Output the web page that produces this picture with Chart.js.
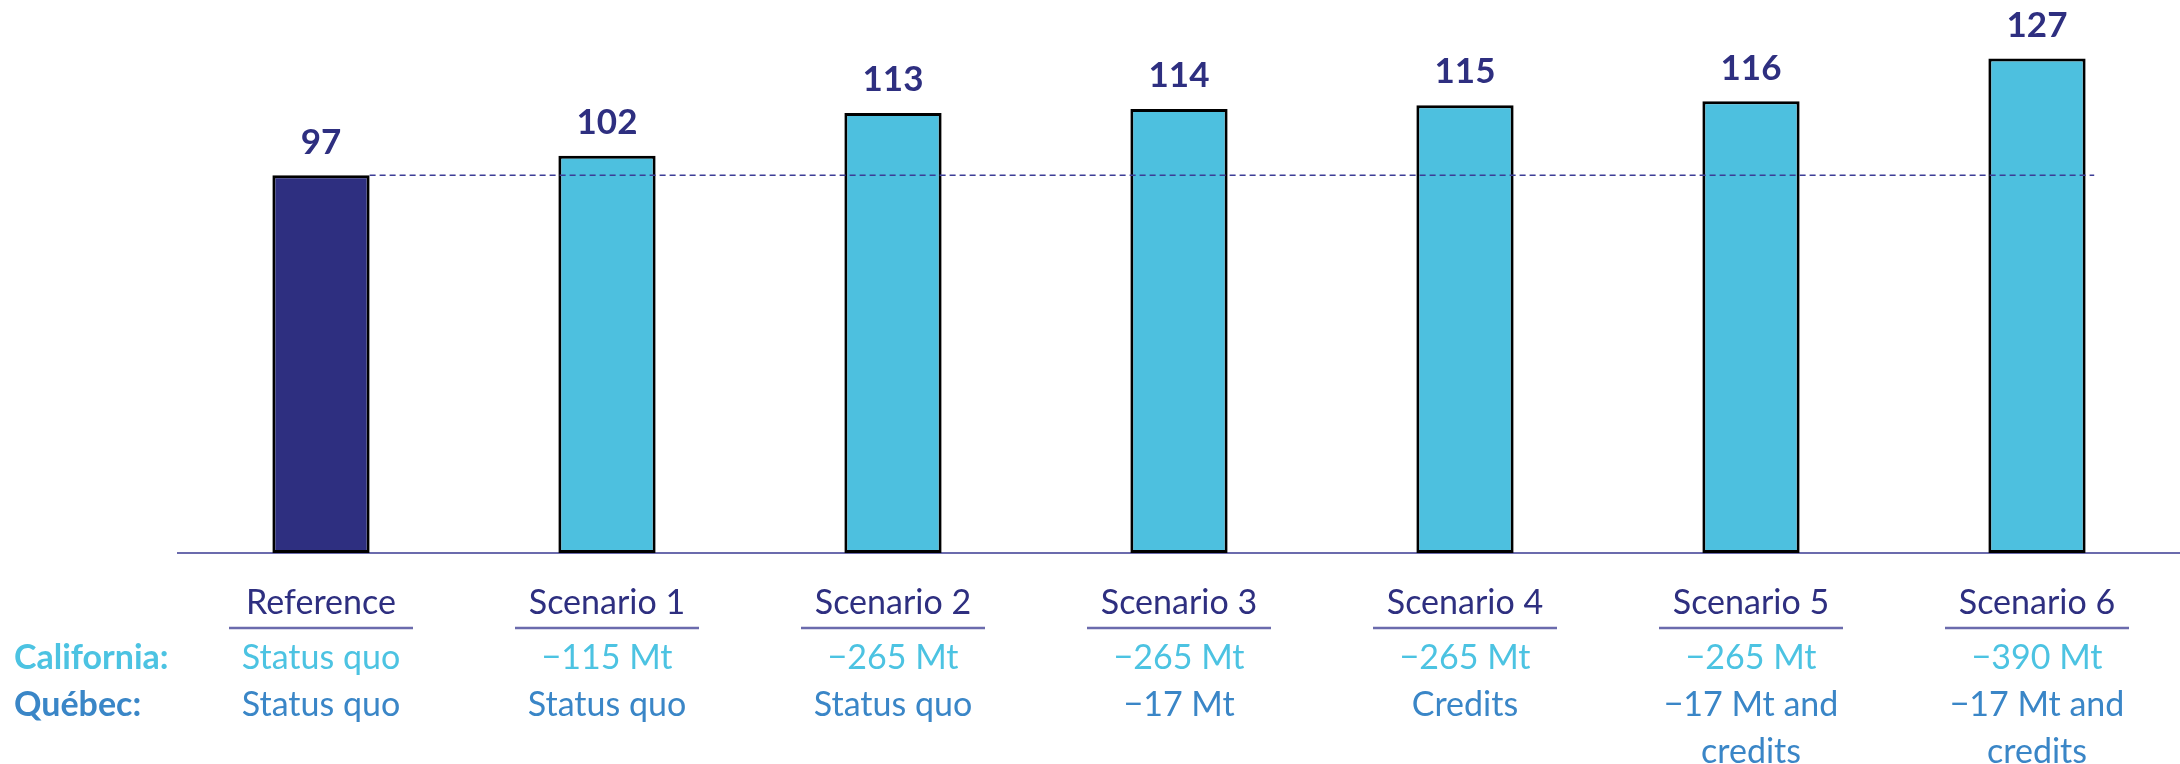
<!DOCTYPE html>
<html>
<head>
<meta charset="utf-8">
<script src="https://cdn.jsdelivr.net/npm/chart.js@4"></script>
<style>
  html, body { margin: 0; padding: 0; background: #fff; }
  #grafico { display: block; }
</style>
</head>
<body>
<canvas id="grafico" width="2180" height="764"></canvas>
<script>
// Datos del gráfico
var categorias = ['Reference', 'Scenario 1', 'Scenario 2', 'Scenario 3', 'Scenario 4', 'Scenario 5', 'Scenario 6'];
var valores = [97, 102, 113, 114, 115, 116, 127];
var filaCalifornia = ['Status quo', '\u2212115 Mt', '\u2212265 Mt', '\u2212265 Mt', '\u2212265 Mt', '\u2212265 Mt', '\u2212390 Mt'];
var filaQuebec = [['Status quo'], ['Status quo'], ['Status quo'], ['\u221217 Mt'], ['Credits'], ['\u221217 Mt and', 'credits'], ['\u221217 Mt and', 'credits']];
var etiquetasFilas = ['California:', 'Qu\u00e9bec:'];

var fuente = 'Lato, "Open Sans", sans-serif';
var colorMarino = '#2e2f80';
var colorCeleste = '#4dc0df';
var colorCalifornia = '#4cc3e2';
var colorQuebec = '#3a86c7';
var colorLinea = '#6b6bad';

var coloresBarras = valores.map(function (v, i) { return i === 0 ? colorMarino : colorCeleste; });

// Etiquetas de valor encima de cada barra
var etiquetasValor = {
    id: 'etiquetasValor',
    afterDatasetsDraw: function (chart) {
        var ctx = chart.ctx;
        var meta = chart.getDatasetMeta(0);
        ctx.save();
        ctx.font = 'bold 35px ' + fuente;
        ctx.fillStyle = colorMarino;
        ctx.textAlign = 'center';
        ctx.textBaseline = 'middle';
        meta.data.forEach(function (barra, i) {
            ctx.fillText(String(valores[i]), barra.x, barra.y - 33);
        });
        ctx.restore();
    }
};

// Línea discontinua al nivel de la referencia
var lineaReferencia = {
    id: 'lineaReferencia',
    afterDatasetsDraw: function (chart) {
        var ctx = chart.ctx;
        var x = chart.scales.x;
        var y = chart.scales.y;
        var meta = chart.getDatasetMeta(0);
        var ancho = x.getPixelForValue(1) - x.getPixelForValue(0);
        var yRef = y.getPixelForValue(valores[0]);
        var x0 = meta.data[0].x + meta.data[0].width / 2;
        var x1 = x.getPixelForValue(categorias.length - 1) + ancho * 0.2;
        ctx.save();
        ctx.strokeStyle = '#3d3d96';
        ctx.lineWidth = 1.5;
        ctx.setLineDash([6, 4]);
        ctx.beginPath();
        ctx.moveTo(x0, yRef);
        ctx.lineTo(x1, yRef);
        ctx.stroke();
        ctx.restore();
    }
};

// Subrayados y filas California / Québec bajo el eje
var filasInferiores = {
    id: 'filasInferiores',
    afterDraw: function (chart) {
        var ctx = chart.ctx;
        var x = chart.scales.x;
        var base = chart.chartArea.bottom;
        ctx.save();
        // subrayados
        ctx.strokeStyle = colorLinea;
        ctx.lineWidth = 2.5;
        categorias.forEach(function (c, i) {
            var cx = x.getPixelForValue(i);
            ctx.beginPath();
            ctx.moveTo(cx - 92, base + 75);
            ctx.lineTo(cx + 92, base + 75);
            ctx.stroke();
        });
        ctx.textBaseline = 'middle';
        // nombres de las filas
        ctx.textAlign = 'left';
        ctx.font = 'bold 34px ' + fuente;
        ctx.fillStyle = colorCalifornia;
        ctx.fillText(etiquetasFilas[0], 14, base + 105);
        ctx.fillStyle = colorQuebec;
        ctx.fillText(etiquetasFilas[1], 14, base + 152);
        // valores de las filas
        ctx.textAlign = 'center';
        ctx.font = '34px ' + fuente;
        categorias.forEach(function (c, i) {
            var cx = x.getPixelForValue(i);
            ctx.fillStyle = colorCalifornia;
            ctx.fillText(filaCalifornia[i], cx, base + 105);
            ctx.fillStyle = colorQuebec;
            filaQuebec[i].forEach(function (linea, j) {
                ctx.fillText(linea, cx, base + 152 + j * 47);
            });
        });
        ctx.restore();
    }
};

var ctx = document.getElementById('grafico').getContext('2d');
window.myChart = new Chart(ctx, {
    type: 'bar',
    data: {
        labels: categorias,
        datasets: [{
            data: valores,
            backgroundColor: coloresBarras,
            borderColor: '#000000',
            borderWidth: 3,
            borderSkipped: false,
            barPercentage: 0.34,
            categoryPercentage: 1.0
        }]
    },
    options: {
        responsive: false,
        animation: false,
        layout: { padding: { left: 178, right: 0, top: 0, bottom: 0 } },
        plugins: {
            legend: { display: false },
            tooltip: { enabled: false }
        },
        scales: {
            x: {
                grid: { display: false, drawTicks: false },
                border: { display: true, color: colorLinea, width: 2 },
                ticks: {
                    color: colorMarino,
                    font: { family: fuente, size: 34 },
                    padding: 30,
                    maxRotation: 0,
                    autoSkip: false
                },
                afterFit: function (scale) { scale.height = 211; }
            },
            y: {
                display: false,
                min: 0,
                max: 142
            }
        }
    },
    plugins: [lineaReferencia, etiquetasValor, filasInferiores]
});
</script>
</body>
</html>
